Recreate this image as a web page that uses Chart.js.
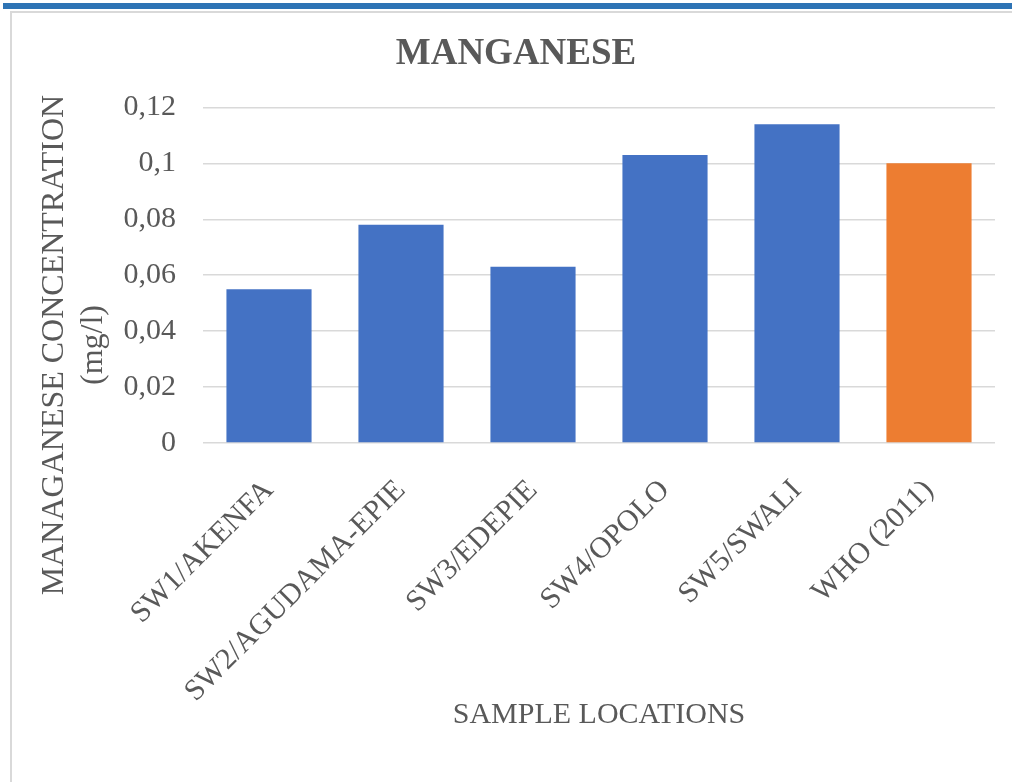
<!DOCTYPE html>
<html>
<head>
<meta charset="utf-8">
<script src="https://cdn.jsdelivr.net/npm/chart.js@4.4.1/dist/chart.umd.min.js"></script>
<style>
    html, body { margin: 0; padding: 0; background: #fff; }
    body { width: 1012px; height: 782px; position: relative; overflow: hidden; }
    #topStripe { position: absolute; left: 3px; top: 3px; width: 1009px; height: 6px; background: #2e74b5; }
    #frame { position: absolute; left: 10px; top: 11px; width: 1010px; height: 780px;
             border-left: 2px solid #d9d9d9; border-top: 2px solid #d9d9d9; }
    #chartBox { position: absolute; left: 0; top: 0; width: 1012px; height: 782px; }
</style>
</head>
<body>
<div id="topStripe"></div>
<div id="frame"></div>
<div id="chartBox"><canvas id="mnChart"></canvas></div>
<script>
// Sample locations and manganese values (mg/l)
const locations = ['SW1/AKENFA', 'SW2/AGUDAMA-EPIE', 'SW3/EDEPIE', 'SW4/OPOLO', 'SW5/SWALI', 'WHO (2011)'];
const manganese = [0.055, 0.078, 0.063, 0.103, 0.114, 0.1];
const barColors = ['#4472c4', '#4472c4', '#4472c4', '#4472c4', '#4472c4', '#ed7d31'];
const yTitleLines = ['MANAGANESE CONCENTRATION', '(mg/l)'];

const textColor = '#595959';
const serif = "'Liberation Serif', 'Times New Roman', serif";

// y axis title drawn by hand so it can sit lower than the plot centre (like the original)
const yTitlePlugin = {
    id: 'yTitle',
    afterDraw(chart) {
        const ctx = chart.ctx;
        ctx.save();
        ctx.fillStyle = textColor;
        ctx.font = '32px ' + serif;
        ctx.textAlign = 'center';
        ctx.textBaseline = 'middle';
        ctx.translate(0, 345);
        ctx.rotate(-Math.PI / 2);
        yTitleLines.forEach((line, i) => {
            ctx.fillText(line, 0, 55 + i * 39);
        });
        ctx.restore();
    }
};

const ctx = document.getElementById('mnChart');
new Chart(ctx, {
    type: 'bar',
    data: {
        labels: locations,
        datasets: [{
            label: 'Manganese',
            data: manganese,
            backgroundColor: barColors,
            borderWidth: 0,
            categoryPercentage: 1,
            barPercentage: 0.645
        }]
    },
    options: {
        responsive: true,
        maintainAspectRatio: false,
        animation: false,
        layout: {
            padding: { left: 37, right: 17, top: 0, bottom: 49 }
        },
        plugins: {
            legend: { display: false },
            tooltip: { enabled: false },
            title: {
                display: true,
                text: 'MANGANESE',
                color: textColor,
                font: { family: serif, size: 37, weight: 'bold' },
                padding: { top: 32, bottom: 31 }
            }
        },
        scales: {
            x: {
                grid: { display: false },
                border: { display: false },
                ticks: {
                    color: textColor,
                    font: { family: serif, size: 30 },
                    maxRotation: 45,
                    minRotation: 45,
                    autoSkip: false,
                    padding: 22
                },
                title: {
                    display: true,
                    text: 'SAMPLE LOCATIONS',
                    color: textColor,
                    font: { family: serif, size: 30 },
                    padding: { top: 0, bottom: 0 }
                },
                afterFit: function (scale) {
                    scale.height = 290;
                }
            },
            y: {
                min: 0,
                max: 0.12,
                border: { display: false },
                grid: {
                    color: '#d9d9d9',
                    lineWidth: 1.5,
                    drawTicks: false
                },
                ticks: {
                    stepSize: 0.02,
                    color: textColor,
                    font: { family: serif, size: 30 },
                    padding: 27,
                    callback: function (value) {
                        return Number(value.toFixed(2)).toString().replace('.', ',');
                    }
                },
                afterFit: function (scale) {
                    scale.width = 166;
                }
            }
        }
    },
    plugins: [yTitlePlugin]
});
</script>
</body>
</html>
